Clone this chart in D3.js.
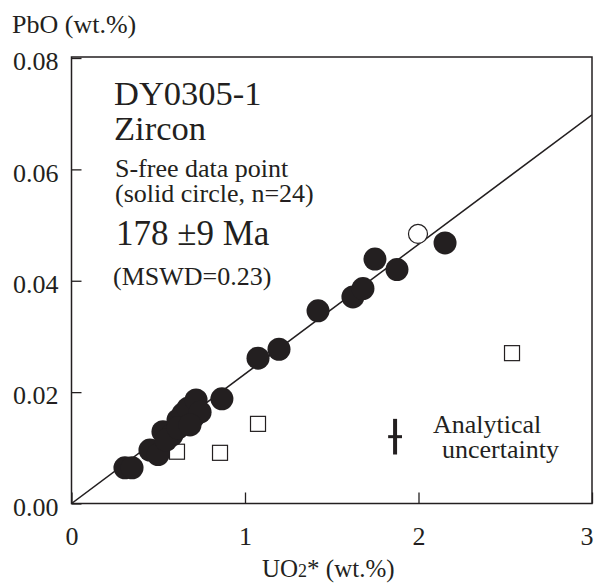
<!DOCTYPE html>
<html>
<head>
<meta charset="utf-8">
<script src="https://cdn.jsdelivr.net/npm/d3@7"></script>
<style>
  body { margin: 0; background: #fff; }
</style>
</head>
<body>
<script>
// S-free data points (solid circles, n=24): UO2* wt.% and PbO wt.%
const solidUO2 = [0.308, 0.349, 0.452, 0.499, 0.527, 0.579, 0.545, 0.614, 0.643, 0.700, 0.671, 0.718,
                  0.741, 0.614, 0.867, 0.683, 1.075, 1.196, 1.421, 1.622, 1.680, 1.749, 1.876, 2.153];
const solidPbO = [0.0064, 0.0064, 0.0096, 0.0088, 0.0129, 0.0123, 0.0114, 0.0150, 0.0161, 0.0154, 0.0171, 0.0186,
                  0.0164, 0.0136, 0.0188, 0.0141, 0.0261, 0.0277, 0.0346, 0.0371, 0.0386, 0.0439, 0.0420, 0.0468];

// open circle
const openUO2 = [1.997];
const openPbO = [0.0484];

// squares (S-bearing points)
const squareUO2 = [0.608, 0.856, 1.075, 2.539];
const squarePbO = [0.0093, 0.0091, 0.0143, 0.0270];

// isochron line (through origin)
const lineUO2 = [0, 3];
const linePbO = [0, 0.0698];

// analytical uncertainty marker
const errCenter = [1.865, 0.0120];
const errHalf = [0.04, 0.0032];

const xTicks = [0, 1, 2, 3];
const yTicks = [0, 0.02, 0.04, 0.06, 0.08];

const ink = "#231f20";
const serif = "'Liberation Serif', 'Times New Roman', Times, serif";

const width = 595, height = 583;
const svg = d3.select("body").append("svg")
    .attr("width", width)
    .attr("height", height)
    .attr("font-family", serif);

const x = d3.scaleLinear().domain([0, 3]).range([71.5, 592]);
const y = d3.scaleLinear().domain([0, 0.08]).range([503.5, 58]);

// frame
svg.append("rect")
    .attr("x", x(0)).attr("y", 57)
    .attr("width", x(3) - x(0)).attr("height", y(0) - 57)
    .attr("fill", "none").attr("stroke", ink).attr("stroke-width", 1.5);

// axes with inward ticks
const yAxis = svg.append("g")
    .attr("transform", `translate(${x(0)},0)`)
    .call(d3.axisLeft(y).tickValues(yTicks).tickFormat(d3.format(".2f"))
        .tickSizeInner(-10).tickSizeOuter(0).tickPadding(13));
yAxis.attr("font-family", serif).attr("font-size", 26);
yAxis.select(".domain").remove();
yAxis.selectAll("line").attr("stroke", ink).attr("stroke-width", 1.3);
yAxis.selectAll("text").attr("fill", ink).attr("dy", "0.45em");

const xAxis = svg.append("g")
    .attr("transform", `translate(0,${y(0)})`)
    .call(d3.axisBottom(x).tickValues(xTicks).tickFormat(d3.format("d"))
        .tickSizeInner(-11).tickSizeOuter(0).tickPadding(23));
xAxis.attr("font-family", serif).attr("font-size", 26);
xAxis.select(".domain").remove();
xAxis.selectAll("line").attr("stroke", ink).attr("stroke-width", 1.3);
xAxis.selectAll("text").attr("fill", ink)
    .filter(d => d === 3).attr("text-anchor", "end").attr("dx", 1);

// axis titles
svg.append("text").attr("x", 12).attr("y", 33).attr("font-size", 26).attr("fill", ink).text("PbO (wt.%)");
const xt = svg.append("text").attr("x", 262).attr("y", 577).attr("font-size", 25).attr("fill", ink);
xt.append("tspan").text("UO");
xt.append("tspan").attr("font-size", 18).text("2");
xt.append("tspan").text("* (wt.%)");

// clip to plot
svg.append("clipPath").attr("id", "plot")
  .append("rect").attr("x", x(0)).attr("y", 57)
  .attr("width", x(3) - x(0)).attr("height", y(0) - 57);

// line
const lineData = lineUO2.map((d, i) => [d, linePbO[i]]);
svg.append("path")
    .datum(lineData)
    .attr("clip-path", "url(#plot)")
    .attr("d", d3.line().x(d => x(d[0])).y(d => y(d[1])))
    .attr("fill", "none").attr("stroke", ink).attr("stroke-width", 1.5);

// squares
const sq = 15;
svg.append("g").selectAll("rect")
    .data(squareUO2.map((d, i) => [d, squarePbO[i]]))
    .join("rect")
    .attr("x", d => x(d[0]) - sq / 2).attr("y", d => y(d[1]) - sq / 2)
    .attr("width", sq).attr("height", sq)
    .attr("fill", "#fff").attr("stroke", ink).attr("stroke-width", 1.2);

// solid circles
svg.append("g").selectAll("circle")
    .data(solidUO2.map((d, i) => [d, solidPbO[i]]))
    .join("circle")
    .attr("cx", d => x(d[0])).attr("cy", d => y(d[1]))
    .attr("r", 11.5)
    .attr("fill", ink);

// open circle
svg.append("g").selectAll("circle")
    .data(openUO2.map((d, i) => [d, openPbO[i]]))
    .join("circle")
    .attr("cx", d => x(d[0])).attr("cy", d => y(d[1]))
    .attr("r", 9.5)
    .attr("fill", "#fff").attr("stroke", ink).attr("stroke-width", 1.2);

// analytical uncertainty cross
svg.append("line")
    .attr("x1", x(errCenter[0])).attr("x2", x(errCenter[0]))
    .attr("y1", y(errCenter[1] - errHalf[1])).attr("y2", y(errCenter[1] + errHalf[1]))
    .attr("stroke", ink).attr("stroke-width", 4);
svg.append("line")
    .attr("x1", x(errCenter[0] - errHalf[0])).attr("x2", x(errCenter[0] + errHalf[0]))
    .attr("y1", y(errCenter[1])).attr("y2", y(errCenter[1]))
    .attr("stroke", ink).attr("stroke-width", 3);

const note = (tx, ty, size, s) => svg.append("text")
    .attr("x", tx).attr("y", ty).attr("font-size", size).attr("fill", ink).text(s);

note(433, 433, 26, "Analytical");
note(442, 458, 26, "uncertainty");

// annotation block
note(114, 105, 34.5, "DY0305-1");
note(114, 140, 34.5, "Zircon");
note(115, 177, 26, "S-free data point");
note(115, 202, 26, "(solid circle, n=24)");
note(116, 245, 35, "178 \u00b19 Ma");
note(113, 285, 26, "(MSWD=0.23)");
</script>
</body>
</html>
